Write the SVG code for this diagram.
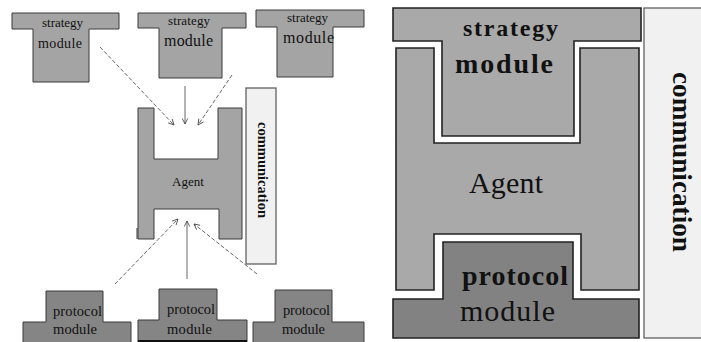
<svg xmlns="http://www.w3.org/2000/svg" width="701" height="342" viewBox="0 0 701 342">
  <defs>
    <marker id="vhead" viewBox="0 0 10 10" refX="9" refY="5" markerWidth="7" markerHeight="7" orient="auto" markerUnits="userSpaceOnUse">
      <path d="M1,1 L9,5 L1,9" fill="none" stroke="#444" stroke-width="1.2"/>
    </marker>
    <style>
      .light { fill: #a4a4a4; stroke: #3a3a3a; stroke-width: 1; }
      .dark { fill: #858585; stroke: #3a3a3a; stroke-width: 1; }
      .lightR { fill: #a9a9a9; stroke: #222; stroke-width: 1.6; }
      .darkR { fill: #828282; stroke: #222; stroke-width: 1.6; }
      .comm { fill: #f1f1f1; stroke: #555; stroke-width: 1.2; }
      .t { font-family: "Liberation Serif", "Times New Roman", serif; fill: #111; }
      .c { text-anchor: middle; }
      .b { font-weight: bold; }
      .link { fill: none; stroke: #555; stroke-width: 0.9; marker-end: url(#vhead); }
      .dash { stroke-dasharray: 4 2; }
    </style>
  </defs>
  <rect width="701" height="342" fill="#ffffff"/>

  <!-- small view: three strategy modules above the agent -->
  <g id="strategy-1">
    <polygon class="light" points="12,13 119,13 119,29 89,29 89,82 33,82 33,29 12,29"/>
    <text class="t c" x="62.5" y="27" font-size="13" textLength="41">strategy</text>
    <text class="t c" x="60" y="48" font-size="14" textLength="44">module</text>
  </g>
  <g id="strategy-2">
    <polygon class="light" points="138,13 246,13 246,28 222,28 222,78 159,78 159,28 138,28"/>
    <text class="t c" x="189" y="25" font-size="13" textLength="42">strategy</text>
    <text class="t c" x="188.5" y="46" font-size="16" textLength="49">module</text>
  </g>
  <g id="strategy-3">
    <polygon class="light" points="256,10 364,10 364,27 333,27 333,77 277,77 277,27 256,27"/>
    <text class="t c" x="307.5" y="22" font-size="13" textLength="41">strategy</text>
    <text class="t c" x="308.5" y="43" font-size="16" textLength="51">module</text>
  </g>

  <!-- small view: agent frame -->
  <g id="agent-small">
    <polygon class="light" points="138,108 154,108 154,159 218,159 218,108 242,108 242,239 219,239 219,209 154,209 154,239 138,239"/>
    <line x1="137" y1="228" x2="137" y2="239" stroke="#333" stroke-width="1"/>
    <text class="t c" x="188" y="186" font-size="13">Agent</text>
  </g>

  <!-- small view: communication layer -->
  <g id="communication-small">
    <rect class="comm" x="246" y="88" width="30" height="176"/>
    <text class="t b" x="258" y="122" font-size="14" textLength="96" lengthAdjust="spacingAndGlyphs" transform="rotate(90 258 122)">communication</text>
  </g>

  <!-- small view: three protocol modules below the agent -->
  <g id="protocol-1">
    <polygon class="dark" points="46,291 103,291 103,322 131,322 131,344 23,344 23,322 46,322"/>
    <text class="t c" x="77.5" y="316" font-size="14.5" textLength="49">protocol</text>
    <text class="t c" x="75" y="334" font-size="14.5" textLength="44">module</text>
  </g>
  <g id="protocol-2">
    <polygon class="dark" points="159,289 217,289 217,320 247,320 247,344 138,344 138,320 159,320"/>
    <line x1="138" y1="341" x2="247" y2="341" stroke="#111" stroke-width="2"/>
    <text class="t c" x="191" y="314" font-size="14.5" textLength="48">protocol</text>
    <text class="t c" x="189.5" y="334" font-size="14.5" textLength="45">module</text>
  </g>
  <g id="protocol-3">
    <polygon class="dark" points="275,290 332,290 332,322 364,322 364,344 253,344 253,322 275,322"/>
    <text class="t c" x="306.5" y="315" font-size="14.5" textLength="47">protocol</text>
    <text class="t c" x="303.5" y="334" font-size="14.5" textLength="43">module</text>
  </g>

  <!-- connectors: modules feeding the agent -->
  <g id="connectors">
    <line class="link dash" x1="100" y1="47" x2="174" y2="125"/>
    <line class="link" x1="185" y1="86" x2="185" y2="124"/>
    <line class="link dash" x1="232" y1="75" x2="198" y2="125"/>
    <line class="link dash" x1="115" y1="284" x2="178" y2="219"/>
    <line class="link" x1="187" y1="279" x2="187" y2="221"/>
    <line class="link dash" x1="257" y1="274" x2="194" y2="224"/>
  </g>

  <!-- large view: assembled agent -->
  <g id="agent-large">
    <polygon class="lightR" points="396,48 434,48 434,143 580,143 580,48 639,48 639,290 581,290 581,234 434,234 434,290 396,290"/>
    <text class="t c" x="506" y="193" font-size="30" textLength="74">Agent</text>
  </g>
  <g id="strategy-large">
    <polygon class="lightR" points="393,8 641,8 641,41 574,41 574,136 442,136 442,41 393,41"/>
    <text class="t c b" x="510.5" y="36" font-size="24" textLength="95">strategy</text>
    <text class="t c b" x="504" y="73" font-size="28" textLength="98">module</text>
  </g>
  <g id="protocol-large">
    <polygon class="darkR" points="443,242 573,242 573,299 639,299 639,338 393,338 393,299 443,299"/>
    <text class="t c b" x="515" y="285" font-size="28" textLength="106">protocol</text>
    <text class="t c" x="507.5" y="321" font-size="30" textLength="95">module</text>
  </g>
  <g id="communication-large">
    <rect class="comm" x="644" y="8" width="62" height="330"/>
    <text class="t b" x="673" y="72" font-size="28" textLength="180" lengthAdjust="spacingAndGlyphs" transform="rotate(90 673 72)">communication</text>
  </g>
</svg>
